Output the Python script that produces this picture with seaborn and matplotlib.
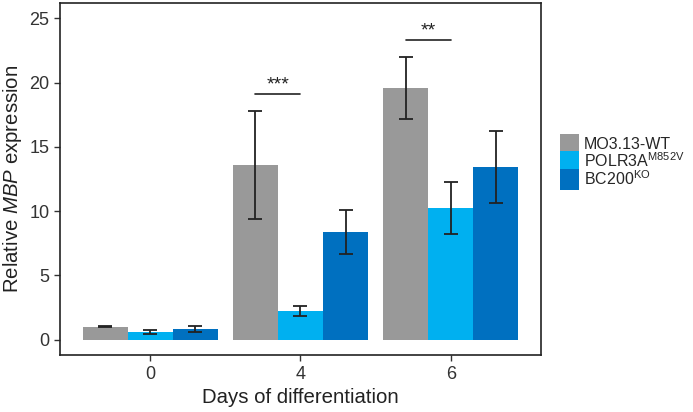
import numpy as np
import pandas as pd
import matplotlib
matplotlib.use('Agg')
import matplotlib.pyplot as plt
import seaborn as sns

sns.set_style('white')
plt.rcParams['font.family'] = ['Liberation Sans', 'DejaVu Sans']
plt.rcParams['mathtext.fontset'] = 'custom'
plt.rcParams['mathtext.rm'] = 'Liberation Sans'
plt.rcParams['mathtext.it'] = 'Liberation Sans:italic'

days = ['0', '4', '6']
groups = ['MO3.13-WT', 'POLR3A$^{\\mathrm{M852V}}$', 'BC200$^{\\mathrm{KO}}$']
colors = ['#999999', '#00B0F0', '#0070C0']
wt = [1.0, 13.6, 19.6]
polr3a = [0.62, 2.25, 10.25]
bc200 = [0.85, 8.4, 13.45]
wt_err = [0.03, 4.2, 2.4]
polr3a_err = [0.17, 0.38, 2.0]
bc200_err = [0.25, 1.7, 2.8]

df = pd.DataFrame({
    'day': days * 3,
    'group': [g for g in groups for _ in days],
    'value': wt + polr3a + bc200,
    'err': wt_err + polr3a_err + bc200_err,
})

fig = plt.figure(figsize=(6.93, 4.12), dpi=100)
ax = fig.add_axes([0.0866, 0.138, 0.694, 0.855])
sns.barplot(data=df, x='day', y='value', hue='group', order=days, hue_order=groups,
            palette=colors, errorbar=None, width=0.9, gap=0, ax=ax, legend=True,
            saturation=1, linewidth=0)

bw = 0.3
for j, g in enumerate(groups):
    sub = df[df['group'] == g].set_index('day').loc[days]
    xs = np.arange(len(days)) + (j - 1) * bw
    ax.errorbar(xs, sub['value'], yerr=sub['err'], fmt='none', ecolor='#222222',
                elinewidth=1.3, capsize=5, capthick=1.3)

# significance marks (WT vs POLR3A)
ax.plot([1 - bw, 1], [19.1, 19.1], color='#222222', lw=1.2)
ax.text(1 - bw / 2, 19.15, '***', ha='center', va='bottom', fontsize=14, color='#222222')
ax.plot([2 - bw, 2], [23.3, 23.3], color='#222222', lw=1.2)
ax.text(2 - bw / 2, 23.35, '**', ha='center', va='bottom', fontsize=14, color='#222222')

ax.set_xlim(-0.6, 2.6)
ax.set_ylim(-1.2, 26.2)
ax.set_yticks([0, 5, 10, 15, 20, 25])
ax.set_xlabel('Days of differentiation', fontsize=14.7, color='#222222')
ax.set_ylabel('Relative $\\mathit{MBP}$ expression', fontsize=14.7, color='#222222')
ax.tick_params(axis='both', labelsize=13, colors='#333333', length=4, width=1,
               left=True, bottom=True, labelcolor='#333333')
for s in ax.spines.values():
    s.set_color('#222222')
    s.set_linewidth(1.2)

handles, labels = ax.get_legend_handles_labels()
ax.legend_.remove()
fig.legend(handles, labels, loc='center left', bbox_to_anchor=(0.808, 0.607),
           frameon=False, fontsize=11.5, handlelength=1.2, handleheight=1.646,
           handletextpad=0.3, labelspacing=-0.2, borderpad=0, borderaxespad=0)

fig.savefig('out.png', dpi=100)
